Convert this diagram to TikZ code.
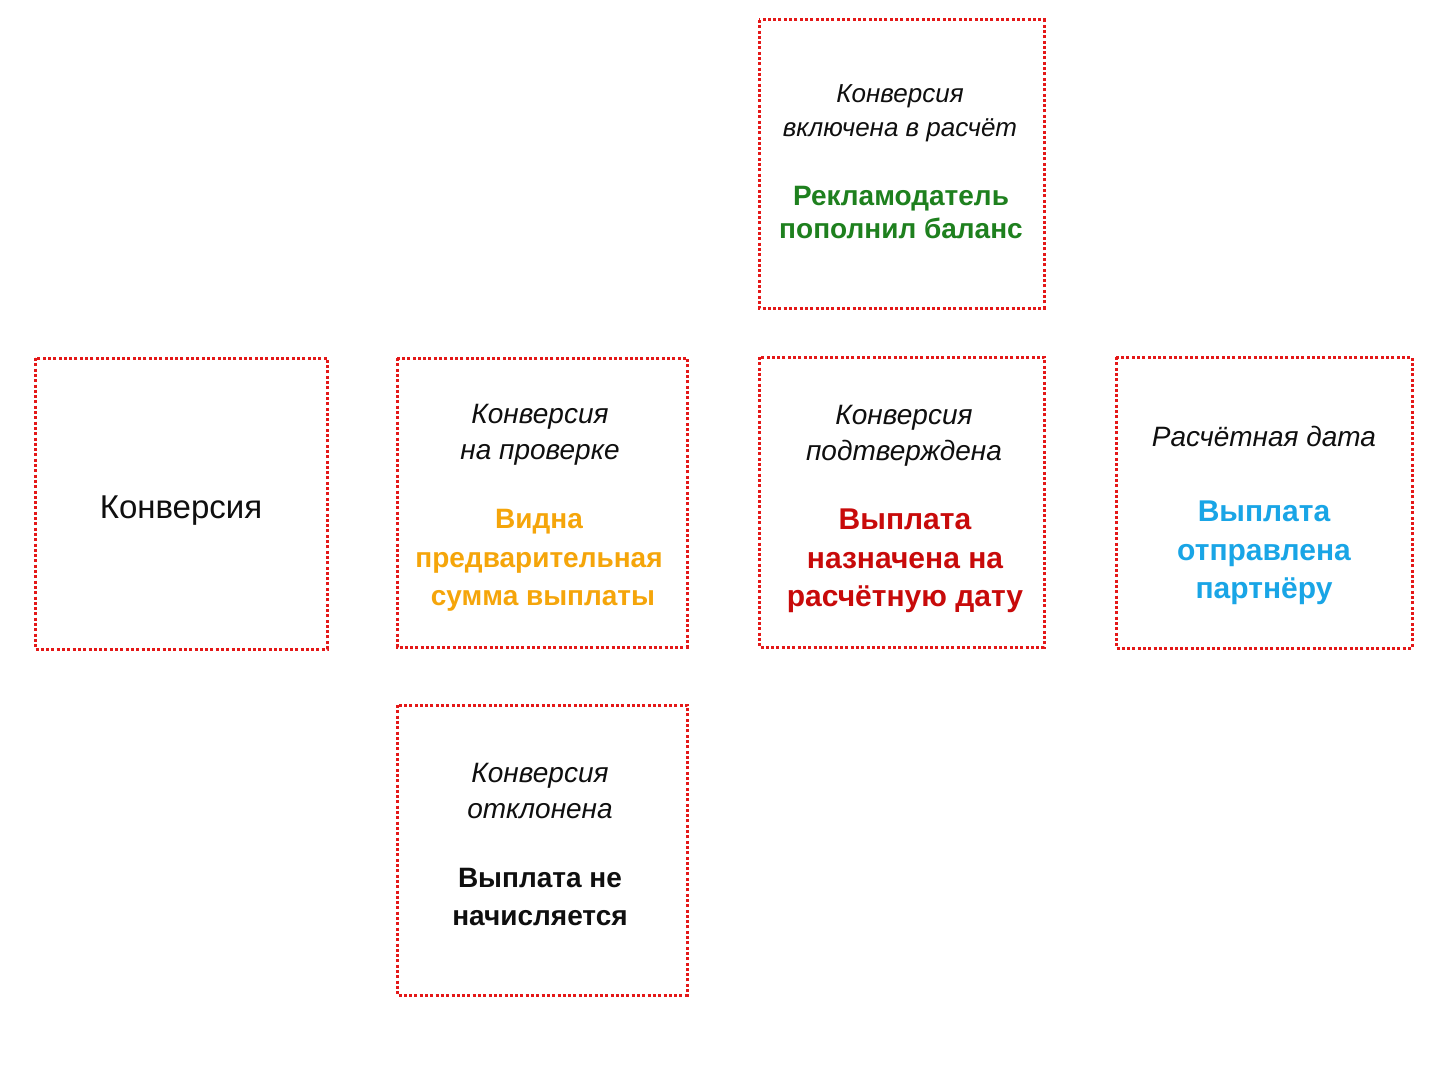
\documentclass[tikz,border=0pt]{standalone}
\usepackage{fontspec}
\setmainfont{Liberation Sans}
\definecolor{boxred}{RGB}{228,24,24}
\definecolor{tgreen}{RGB}{30,128,30}
\definecolor{torange}{RGB}{245,165,10}
\definecolor{tred}{RGB}{200,10,10}
\definecolor{tblue}{RGB}{25,165,230}
\definecolor{tblack}{RGB}{15,15,15}
\tikzset{
  stagebox/.style={draw=boxred, line width=3pt, dash pattern=on 3pt off 2.3pt, inner sep=0pt},
  itl/.style={anchor=base, inner sep=0pt, text=tblack, font=\fontsize{28}{34}\selectfont\itshape},
  itlsmall/.style={anchor=base, inner sep=0pt, text=tblack, font=\fontsize{26}{32}\selectfont\itshape},
  bld/.style={anchor=base, inner sep=0pt, font=\fontsize{28}{34}\selectfont\bfseries},
  bldbig/.style={anchor=base, inner sep=0pt, font=\fontsize{30}{36}\selectfont\bfseries},
  plain/.style={anchor=base, inner sep=0pt, text=tblack, font=\fontsize{33}{38}\selectfont}
}
\begin{document}
\begin{tikzpicture}[x=1pt,y=-1pt]
\useasboundingbox[fill=white] (0,0) rectangle (1448,1086);
% boxes
\draw[stagebox] (759,20) rectangle (1044,308) coordinate (b1);
\draw[stagebox] (35,358) rectangle (327,649) coordinate (b2);
\draw[stagebox] (397,358) rectangle (687,647) coordinate (b3);
\draw[stagebox] (759,357) rectangle (1044,647) coordinate (b4);
\draw[stagebox] (1116,357) rectangle (1412,648) coordinate (b5);
\draw[stagebox] (397,705) rectangle (687,995) coordinate (b6);
% box 1
\node[itlsmall] (t1a) at (900,103) {Конверсия};
\node[itlsmall] (t1b) at (900,137) {включена в расчёт};
\node[bld, text=tgreen] (t1c) at (901,206) {Рекламодатель};
\node[bld, text=tgreen] (t1d) at (901,238) {пополнил баланс};
% box 2
\node[plain] (t2a) at (181,518) {Конверсия};
% box 3
\node[itl] (t3a) at (540,423) {Конверсия};
\node[itl] (t3b) at (540,459) {на проверке};
\node[bld, text=torange] (t3c) at (539,528) {Видна};
\node[bld, text=torange] (t3d) at (539,567) {предварительная};
\node[bld, text=torange] (t3e) at (543,605) {сумма выплаты};
% box 4
\node[itl] (t4a) at (904,424) {Конверсия};
\node[itl] (t4b) at (904,460) {подтверждена};
\node[bldbig, text=tred] (t4c) at (905,529) {Выплата};
\node[bldbig, text=tred] (t4d) at (905,568) {назначена на};
\node[bldbig, text=tred] (t4e) at (905,606) {расчётную дату};
% box 5
\node[itl] (t5a) at (1264,446) {Расчётная дата};
\node[bldbig, text=tblue] (t5b) at (1264,521) {Выплата};
\node[bldbig, text=tblue] (t5c) at (1264,560) {отправлена};
\node[bldbig, text=tblue] (t5d) at (1264,598) {партнёру};
% box 6
\node[itl] (t6a) at (540,782) {Конверсия};
\node[itl] (t6b) at (540,818) {отклонена};
\node[bld, text=tblack] (t6c) at (540,887) {Выплата не};
\node[bld, text=tblack] (t6d) at (540,925) {начисляется};
\end{tikzpicture}
\end{document}
